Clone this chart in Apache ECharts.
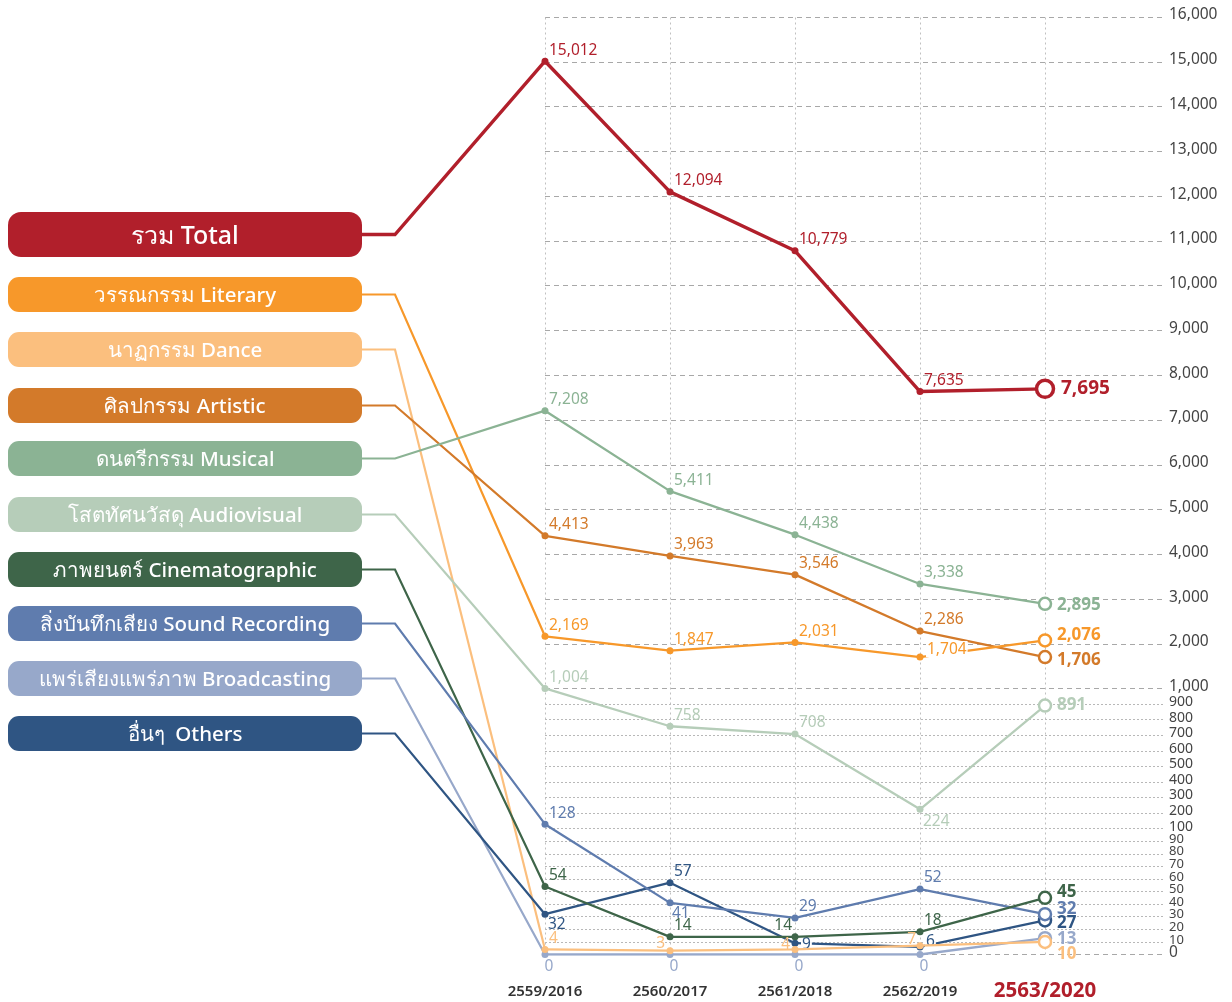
<!DOCTYPE html>
<html><head><meta charset="utf-8">
<script src="https://cdn.jsdelivr.net/npm/echarts@6/dist/echarts.min.js"></script>
<style>html,body{margin:0;padding:0;background:#fff}#c{width:1232px;height:1002px}</style>
</head><body><div id="c"></div>
<script>
// ---------- DATA ----------
const categories = ['2559/2016','2560/2017','2561/2018','2562/2019','2563/2020'];
const total           = [15012, 12094, 10779, 7635, 7695];
const literary        = [2169, 1847, 2031, 1704, 2076];
const dance           = [4, 3, 4, 7, 10];
const artistic        = [4413, 3963, 3546, 2286, 1706];
const musical         = [7208, 5411, 4438, 3338, 2895];
const audiovisual     = [1004, 758, 708, 224, 891];
const cinematographic = [54, 14, 14, 18, 45];
const soundRecording  = [128, 41, 29, 52, 32];
const broadcasting    = [0, 0, 0, 0, 13];
const others          = [32, 57, 9, 6, 27];
const seriesNames = ['รวม Total','วรรณกรรม Literary','นาฏกรรม Dance','ศิลปกรรม Artistic','ดนตรีกรรม Musical',
  'โสตทัศนวัสดุ Audiovisual','ภาพยนตร์ Cinematographic','สิ่งบันทึกเสียง Sound Recording','แพร่เสียงแพร่ภาพ Broadcasting','อื่นๆ  Others'];
const majorTicks = [0,1000,2000,3000,4000,5000,6000,7000,8000,9000,10000,11000,12000,13000,14000,15000,16000];
const hundredTicks = [100,200,300,400,500,600,700,800,900];
const tenTicks = [10,20,30,40,50,60,70,80,90];

// ---------- STYLE ----------
const FONT = '"Noto Sans", "Open Sans", sans-serif';
const colors = ['#B11F2B','#F7982A','#FBBF7E','#D37A2A','#8BB394','#B6CDB9','#3E6549','#5F7CAE','#97A8CA','#2F5583'];
const valuesList = [total, literary, dance, artistic, musical, audiovisual, cinematographic, soundRecording, broadcasting, others];
// legend box layout (pixels)
const boxTops = [212, 277, 332, 388, 441, 497, 552, 606, 661, 716];
const boxH = [45, 35, 35, 35, 35, 35, 35, 35, 35, 35];

// piecewise scale: 0-100, 100-1000, 1000-16000
function t(v){
  if (v <= 100) return v * 1.26;
  if (v <= 1000) return 126 + (v - 100) * 0.15556;
  return 266 + (v - 1000) * 0.0448;
}
const fmt = v => v.toLocaleString('en-US');

// label tweaks per series index -> point index
const tweaks = {
  2: {1:{offset:[-5,-7],align:'right'}, 2:{offset:[-5,-5],align:'right'}, 3:{offset:[-4,-6],align:'right'}, 4:{offset:[12,12]}},
  1: {3:{offset:[6,-8],bg:true}, 4:{offset:[12,-5]}},
  3: {4:{offset:[12,3]}},
  4: {4:{offset:[12,1]}},
  5: {3:{offset:[3,12]}, 4:{offset:[12,0]}},
  6: {2:{offset:[-3,-11],align:'right'}, 4:{offset:[12,-6]}},
  7: {1:{offset:[2,11]}, 4:{offset:[12,-5]}},
  8: {0:{offset:[4,12],align:'center'},1:{offset:[4,12],align:'center'},2:{offset:[4,12],align:'center'},3:{offset:[4,12],align:'center'}, 4:{offset:[12,1]}},
  9: {0:{offset:[3,10]}, 2:{offset:[6,1],bg:true}, 3:{offset:[5,-5],bg:true}, 4:{offset:[12,3]}}
};

const series = [];
// gridline helper series
const gridLines = [];
majorTicks.forEach(v => gridLines.push([
  {coord:[0, t(v)], name: fmt(v), lineStyle:{color:'#a8a8a8', type:[5,4], width:1}, label:{fontSize:15.5, color:'#444'}},
  {coord:[4.96, t(v)]}]));
hundredTicks.forEach(v => gridLines.push([
  {coord:[0, t(v)], name: fmt(v), lineStyle:{color:'#b8b8b8', type:[2,2], width:1}, label:{fontSize:14, color:'#444'}},
  {coord:[4.96, t(v)]}]));
tenTicks.forEach(v => gridLines.push([
  {coord:[0, t(v)], name: fmt(v), lineStyle:{color:'#b8b8b8', type:[2,2], width:1}, label:{fontSize:13, color:'#444'}},
  {coord:[4.96, t(v)]}]));
categories.forEach((c, i) => gridLines.push([
  {coord:[i, 0], lineStyle:{color:'#c0c0c0', type:[2,3], width:1}, label:{show:false}},
  {coord:[i, t(16000)]}]));
gridLines.push([
  {coord:[4.856, -2], lineStyle:{color:'#9a9a9a', type:[7,6], width:1.3}, label:{show:false}},
  {coord:[4.856, 950]}]);

series.push({
  type:'line', data:[], silent:true, z:1,
  markLine:{
    silent:true, symbol:['none','none'], animation:false,
    label:{show:true, position:'end', distance:4, formatter: p => p.name, fontFamily:FONT, offset:[0,-2]},
    emphasis:{disabled:true},
    data: gridLines
  }
});

for (let s = valuesList.length - 1; s >= 0; s--) {
  const vals = valuesList[s], c = colors[s];
  const isTotal = s === 0;
  const data = vals.map((v, i) => {
    const last = i === vals.length - 1;
    const tw = (tweaks[s] && tweaks[s][i]) || {};
    return {
      value:[i, t(v)],
      symbol:'circle',
      symbolSize: last ? (isTotal ? 17 : 12) : 7,
      itemStyle: last ? {color:'#fff', borderColor:c, borderWidth: isTotal ? 3.5 : 2.5} : {color:c},
      label:{
        show:true, position:'inside', verticalAlign:'middle',
        align: tw.align || 'left',
        offset: tw.offset || (last ? [isTotal ? 16 : 12, 0] : [4,-11]),
        formatter: fmt(v),
        color:c, fontFamily:FONT,
        fontSize: last ? (isTotal ? 19 : 17) : 15.5,
        fontWeight: last ? 'bold' : 'normal',
        backgroundColor: tw.bg ? '#fff' : 'transparent',
        padding: tw.bg ? [0,1,0,1] : 0
      }
    };
  });
  series.push({
    name: seriesNames[s], type:'line', data, z: 10 + (valuesList.length - s),
    lineStyle:{color:c, width: isTotal ? 3.4 : 2.3},
    itemStyle:{color:c},
    emphasis:{disabled:true},
    animation:false
  });
}

const chart = echarts.init(document.getElementById('c'), null, {renderer:'canvas'});
chart.setOption({
  animation:false,
  grid:{left:545, right:67, top:5, bottom:47},
  xAxis:{type:'value', min:0, max:4.96,
    axisLine:{show:false}, axisTick:{show:false}, splitLine:{show:false},
    axisLabel:{customValues:[0,1,2,3,4], margin:37, verticalAlign:'middle',
      fontFamily:FONT, fontSize:15, fontWeight:600, color:'#333',
      formatter: v => v === 4 ? '{hl|' + categories[4] + '}' : categories[Math.round(v)],
      rich:{hl:{fontSize:20.5, fontWeight:'bold', color:'#B11F2B', fontFamily:FONT}}}
  },
  yAxis:{type:'value', min:0, max:950, show:false},
  series
});

// legend boxes + connectors
const graphics = [];
valuesList.forEach((vals, s) => {
  const cy = boxTops[s] + boxH[s] / 2;
  const p = chart.convertToPixel({gridIndex:0}, [0, t(vals[0])]);
  graphics.push({type:'polyline', z:5, silent:true,
    shape:{points:[[350, cy],[395, cy],[p[0], p[1]]]},
    style:{stroke:colors[s], lineWidth: s === 0 ? 3.4 : 2.2, fill:null}});
});
valuesList.forEach((vals, s) => {
  const cy = boxTops[s] + boxH[s] / 2;
  graphics.push({type:'rect', z:6, silent:true,
    shape:{x:8, y:boxTops[s], width:354, height:boxH[s], r: s === 0 ? 13 : 11},
    style:{fill:colors[s]}});
  graphics.push({type:'text', z:7, silent:true,
    style:{text:seriesNames[s], x:185, y:cy + 2, align:'center', verticalAlign:'middle',
      textAlign:'center', textVerticalAlign:'middle', fill:'#fff',
      font: (s === 0 ? '500 25px ' : '500 20.5px ') + FONT}});
});
chart.setOption({graphic:graphics});
</script>
</body></html>
